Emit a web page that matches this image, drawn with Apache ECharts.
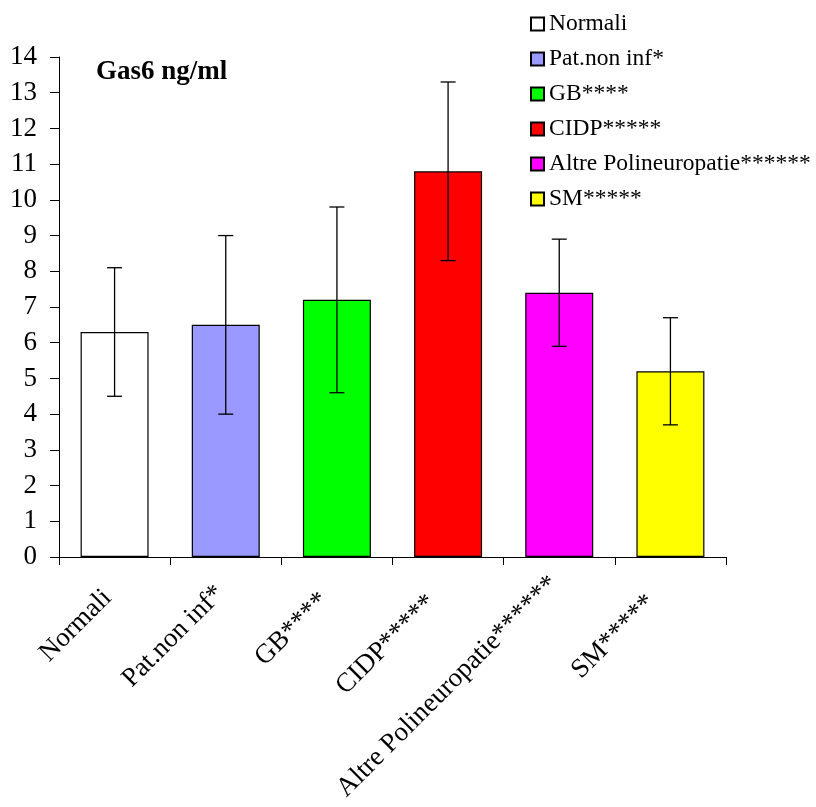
<!DOCTYPE html>
<html><head><meta charset="utf-8">
<script src="https://cdn.jsdelivr.net/npm/echarts@6/dist/echarts.min.js"></script>
<style>html,body{margin:0;padding:0;background:#fff}#c{width:816px;height:807px}</style>
</head><body><div id="c"></div>
<script>
const categories = ['Normali','Pat.non inf*','GB****','CIDP*****','Altre Polineuropatie******','SM*****'];
const values = [6.3, 6.5, 7.2, 10.8, 7.4, 5.2];
const errLow = [4.5, 4.0, 4.6, 8.3, 5.9, 3.7];
const errHigh = [8.1, 9.0, 9.8, 13.3, 8.9, 6.7];
const colors = ['#ffffff','#9999ff','#00ff00','#ff0000','#ff00ff','#ffff00'];
const yTicks = [0,1,2,3,4,5,6,7,8,9,10,11,12,13,14];

// per-label padding [top,right,bottom,left] to mimic the original label placement
const labelPads = [[14,17,0,0],[10,13,0,0],[10,23,0,0],[8,27,0,0],[0,6,3,0],[4,29,0,0]];

const FONT = '"Liberation Serif","Times New Roman",serif';
const rich = {};
labelPads.forEach((p, i) => { rich['r' + i] = {fontFamily: FONT, fontSize: 27, color: '#000', padding: p}; });

const chart = echarts.init(document.getElementById('c'));
const series = categories.map((c, i) => ({
  name: c, type: 'bar', stack: 'one', barWidth: 68,
  data: categories.map((_, j) => j === i ? values[i] : null),
  itemStyle: {color: colors[i], borderColor: '#000', borderWidth: 1.2},
  emphasis: {disabled: true}
}));
series.push({
  type: 'custom', name: 'err', silent: true, z: 10,
  data: categories.map((_, i) => [i, errLow[i], errHigh[i]]),
  renderItem: function (params, api) {
    const x = api.value(0);
    const lo = api.coord([x, api.value(1)]);
    const hi = api.coord([x, api.value(2)]);
    const w = 7.5;
    const st = {stroke: '#000', lineWidth: 1.3};
    return {type: 'group', children: [
      {type: 'line', shape: {x1: lo[0], y1: lo[1], x2: hi[0], y2: hi[1]}, style: st},
      {type: 'line', shape: {x1: lo[0]-w, y1: lo[1], x2: lo[0]+w, y2: lo[1]}, style: st},
      {type: 'line', shape: {x1: hi[0]-w, y1: hi[1], x2: hi[0]+w, y2: hi[1]}, style: st}
    ]};
  }
});
chart.setOption({
  animation: false,
  backgroundColor: '#fff',
  title: {text: 'Gas6 ng/ml', left: 91, top: 54, textStyle: {fontFamily: FONT, fontSize: 27, fontWeight: 'bold', color: '#000'}},
  legend: {
    data: categories, orient: 'vertical', left: 525, top: 7,
    itemWidth: 13, itemHeight: 13, itemGap: 11,
    textStyle: {fontFamily: FONT, fontSize: 23.5, lineHeight: 23, color: '#000'},
    selectedMode: false, icon: 'rect'
  },
  grid: {left: 59, right: 90, top: 57, bottom: 250},
  xAxis: {
    type: 'category', data: categories,
    axisLine: {lineStyle: {color: '#000', width: 1}},
    axisTick: {show: true, alignWithLabel: false, length: 8, lineStyle: {color: '#000'}},
    axisLabel: {rotate: 45, margin: 20, interval: 0, rich: rich,
      formatter: (v, i) => '{r' + i + '|' + v + '}'}
  },
  yAxis: {
    type: 'value', min: 0, max: 14, interval: 1,
    axisLine: {show: true, lineStyle: {color: '#000'}},
    axisTick: {show: true, length: 9, lineStyle: {color: '#000'}},
    splitLine: {show: false},
    axisLabel: {fontFamily: FONT, fontSize: 27, color: '#000', margin: 22,
      formatter: v => yTicks.includes(v) ? String(v) : ''}
  },
  series: series
});
</script></body></html>
